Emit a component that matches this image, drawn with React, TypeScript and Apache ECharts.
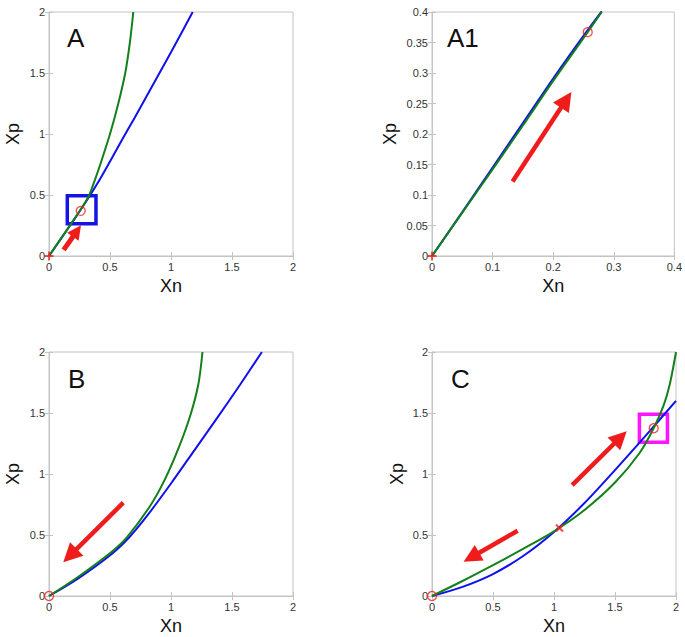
import React, { useEffect, useRef } from "react";
import * as echarts from "echarts";

type P = [number, number];

// ---- data ----
const panelNames = ["A", "A1", "B", "C"];
const axisMaxX = [2, 0.4, 2, 2];
const axisMaxY = [2, 0.4, 2, 2];
const xInterval = [0.5, 0.1, 0.5, 0.5];
const yInterval = [0.5, 0.05, 0.5, 0.5];
const xAxisName = "Xn";
const yAxisName = "Xp";

// Panel A
const blueA: P[] = [[0, 0], [0.1, 0.145], [0.2, 0.29], [0.3, 0.44], [0.4, 0.6], [0.5, 0.775], [0.6, 0.955], [0.7, 1.13], [0.8, 1.31], [0.9, 1.49], [1.0, 1.67], [1.1, 1.855], [1.178, 2.0]];
const greenA: P[] = [[0, 0], [0.1, 0.146], [0.2, 0.292], [0.3, 0.445], [0.33, 0.5], [0.375, 0.62], [0.42, 0.75], [0.5, 1.0], [0.568, 1.25], [0.625, 1.5], [0.663, 1.75], [0.691, 2.0]];
const circlesA: P[] = [[0.26, 0.37]];
const plusA: P[] = [[0, 0]];
const crossA: P[] = [];
const arrowsA: [P, P][] = [[[0.12, 0.05], [0.262, 0.252]]];
const boxA: [P, P] = [[0.15, 0.265], [0.385, 0.494]];

// Panel A1 (zoom of A's box)
const blueA1: P[] = [[0, 0], [0.05, 0.072], [0.1, 0.145], [0.15, 0.218], [0.2, 0.291], [0.25, 0.361], [0.28, 0.401]];
const greenA1: P[] = [[0, 0], [0.05, 0.071], [0.1, 0.142], [0.15, 0.214], [0.2, 0.287], [0.257, 0.367], [0.28, 0.4]];
const circlesA1: P[] = [[0.257, 0.367]];
const plusA1: P[] = [[0, 0]];
const crossA1: P[] = [];
const arrowsA1: [P, P][] = [[[0.133, 0.122], [0.23, 0.269]]];

// Panel B
const blueB: P[] = [[0, 0], [0.24, 0.145], [0.514, 0.345], [0.66, 0.484], [0.8, 0.652], [1.0, 0.922], [1.19, 1.192], [1.38, 1.462], [1.566, 1.732], [1.745, 2.0]];
const greenB: P[] = [[0, 0], [0.24, 0.158], [0.514, 0.363], [0.64, 0.483], [0.83, 0.74], [0.95, 0.956], [1.065, 1.22], [1.16, 1.486], [1.225, 1.74], [1.258, 2.0]];
const circlesB: P[] = [[0, 0]];
const plusB: P[] = [];
const crossB: P[] = [];
const arrowsB: [P, P][] = [[[0.609, 0.765], [0.117, 0.276]]];

// Panel C
const blueC: P[] = [[0, 0], [0.25, 0.075], [0.5, 0.18], [0.75, 0.33], [1.0, 0.525], [1.25, 0.762], [1.5, 1.032], [1.75, 1.312], [2.0, 1.6]];
const greenC: P[] = [[0, 0], [0.25, 0.123], [0.5, 0.253], [0.75, 0.388], [1.0, 0.53], [1.25, 0.705], [1.5, 0.93], [1.7, 1.17], [1.817, 1.375], [1.9, 1.566], [1.95, 1.74], [2.0, 2.0]];
const circlesC: P[] = [[0, 0], [1.817, 1.375]];
const plusC: P[] = [];
const crossC: P[] = [[1.045, 0.557]];
const arrowsC: [P, P][] = [[[1.149, 0.909], [1.596, 1.351]], [[0.702, 0.535], [0.259, 0.281]]];
const boxC: [P, P] = [[1.7, 1.26], [1.93, 1.49]];

const blueSeries = [blueA, blueA1, blueB, blueC];
const greenSeries = [greenA, greenA1, greenB, greenC];
const circleSets = [circlesA, circlesA1, circlesB, circlesC];
const plusSets = [plusA, plusA1, plusB, plusC];
const crossSets = [crossA, crossA1, crossB, crossC];
const arrowSets = [arrowsA, arrowsA1, arrowsB, arrowsC];
const boxSets: ([P, P] | null)[] = [boxA, null, null, boxC];

// ---- styling / layout ----
const layout = [
  { left: 49, top: 12, yNameGap: 27, lx: 67, ly: 37.5, head: 14, arrowW: 5 },
  { left: 432, top: 12, yNameGap: 33, lx: 447, ly: 37.5, head: 19, arrowW: 4.5 },
  { left: 49, top: 352, yNameGap: 27, lx: 68, ly: 378.5, head: 19, arrowW: 4.5 },
  { left: 432, top: 352, yNameGap: 26, lx: 451, ly: 378.5, head: 18, arrowW: 4.5 },
];
const boxColors = ["#1414e6", "", "", "#ff14ff"];
const SIZE = 244;
const FONT = "Liberation Sans, Arial, sans-serif";
const FRAME = "#c4c4c4";
const BLUE = "#1010ee";
const GREEN = "#13801a";
const RED = "#f01c1c";
const PLUS_PATH = "path://M4,0H6V4H10V6H6V10H4V6H0V4H4Z";

// The triangle head is centred on the line's end; pull the end back by half
// the head so that its tip lands on the arrow's data end point.
function arrowEnd(a: P, b: P, p: number, head: number): P {
  const pxPerUnit = SIZE / axisMaxX[p];
  const dx = (b[0] - a[0]) * pxPerUnit;
  const dy = (b[1] - a[1]) * pxPerUnit;
  const len = Math.hypot(dx, dy);
  const back = head / 2 / len;
  return [b[0] - (b[0] - a[0]) * back, b[1] - (b[1] - a[1]) * back];
}

function buildOption(): any {
  const grids: any[] = [];
  const xAxes: any[] = [];
  const yAxes: any[] = [];
  const series: any[] = [];
  const graphics: any[] = [];

  panelNames.forEach((name, p) => {
    const L = layout[p];
    grids.push({
      left: L.left, top: L.top, width: SIZE, height: SIZE,
      show: true, borderColor: FRAME, borderWidth: 1, backgroundColor: "#fff",
    });
    const tick = { show: true, inside: true, length: 4, lineStyle: { color: FRAME, width: 1 } };
    xAxes.push({
      type: "value", gridIndex: p, min: 0, max: axisMaxX[p], interval: xInterval[p],
      position: "bottom",
      name: xAxisName, nameLocation: "middle", nameGap: 21,
      nameTextStyle: { fontSize: 18, color: "#111", fontFamily: FONT },
      axisLine: { show: true, lineStyle: { color: FRAME } },
      axisTick: tick,
      axisLabel: { fontSize: 11, color: "#333", margin: 5, fontFamily: FONT },
      splitLine: { show: false },
    });
    xAxes.push({
      type: "value", gridIndex: p, min: 0, max: axisMaxX[p], interval: xInterval[p],
      position: "top",
      axisLine: { show: false }, axisTick: tick, axisLabel: { show: false }, splitLine: { show: false },
    });
    yAxes.push({
      type: "value", gridIndex: p, min: 0, max: axisMaxY[p], interval: yInterval[p],
      position: "left",
      name: yAxisName, nameLocation: "middle", nameGap: L.yNameGap,
      nameTextStyle: { fontSize: 18, color: "#111", fontFamily: FONT },
      axisLine: { show: true, lineStyle: { color: FRAME } },
      axisTick: tick,
      axisLabel: { fontSize: 11, color: "#333", margin: 4, fontFamily: FONT },
      splitLine: { show: false },
    });
    yAxes.push({
      type: "value", gridIndex: p, min: 0, max: axisMaxY[p], interval: yInterval[p],
      position: "right",
      axisLine: { show: false }, axisTick: tick, axisLabel: { show: false }, splitLine: { show: false },
    });
    const xi = p * 2;
    const yi = p * 2;

    series.push({
      type: "line", xAxisIndex: xi, yAxisIndex: yi, data: blueSeries[p],
      showSymbol: false, smooth: 0.3,
      lineStyle: { color: BLUE, width: 2 }, silent: true, z: 2,
    });
    series.push({
      type: "line", xAxisIndex: xi, yAxisIndex: yi, data: greenSeries[p],
      showSymbol: false, smooth: 0.3,
      lineStyle: { color: GREEN, width: 2 }, silent: true, z: 3,
    });

    const box = boxSets[p];
    series.push({
      type: "scatter", xAxisIndex: xi, yAxisIndex: yi, data: circleSets[p],
      symbol: "circle", symbolSize: 9, silent: true, z: 5,
      itemStyle: { color: "rgba(0,0,0,0)", borderColor: RED, borderWidth: 1.3 },
      markLine: {
        silent: true, animation: false,
        symbol: ["none", "triangle"],
        symbolSize: L.head,
        label: { show: false },
        lineStyle: { color: RED, width: L.arrowW, type: "solid" },
        itemStyle: { color: RED },
        emphasis: { disabled: true },
        data: arrowSets[p].map(([a, b]) => [{ coord: a }, { coord: arrowEnd(a, b, p, L.head) }]),
      },
      markArea: box ? {
        silent: true,
        itemStyle: { color: "rgba(0,0,0,0)", borderColor: boxColors[p], borderWidth: 3.5 },
        label: { show: false },
        data: [[{ coord: box[0] }, { coord: box[1] }]],
      } : undefined,
    });
    series.push({
      type: "scatter", xAxisIndex: xi, yAxisIndex: yi, data: plusSets[p],
      symbol: PLUS_PATH, symbolSize: 9, silent: true, z: 6,
      itemStyle: { color: RED },
    });
    series.push({
      type: "scatter", xAxisIndex: xi, yAxisIndex: yi, data: crossSets[p],
      symbol: PLUS_PATH, symbolSize: 10, symbolRotate: 45, silent: true, z: 6,
      itemStyle: { color: RED },
    });

    graphics.push({
      type: "text", x: L.lx, y: L.ly, z: 10,
      style: { text: name, font: `26px ${FONT}`, fill: "#111", align: "left", verticalAlign: "middle" },
    });
  });

  return {
    animation: false,
    backgroundColor: "#fff",
    grid: grids,
    xAxis: xAxes,
    yAxis: yAxes,
    series,
    graphic: graphics,
  };
}

export default function App() {
  const ref = useRef<HTMLDivElement>(null);
  useEffect(() => {
    if (!ref.current) return;
    const chart = echarts.init(ref.current, undefined, { renderer: "svg" });
    chart.setOption(buildOption());
    return () => chart.dispose();
  }, []);
  return (
    <div
      ref={ref}
      style={{ position: "fixed", left: 0, top: 0, width: 685, height: 637, background: "#fff" }}
    />
  );
}
